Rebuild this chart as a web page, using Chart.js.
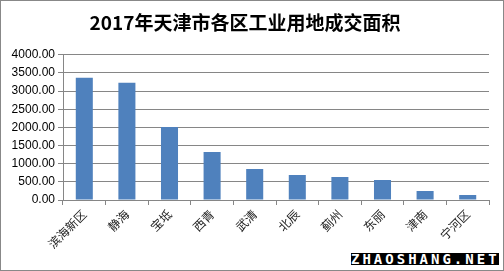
<!DOCTYPE html>
<html>
<head>
<meta charset="utf-8">
<script src="https://cdn.jsdelivr.net/npm/chart.js@4"></script>
<style>
    body { margin: 0; background: #fff; }
    #wrap { position: relative; width: 504px; height: 271px; border: 1px solid #888; box-sizing: border-box; }
    #chart { display: block; }
    #mark {
        position: absolute; left: 350px; top: 252px; width: 148px; height: 12px;
        background: #000; color: #fff; font: bold 14px "DejaVu Sans Mono", monospace;
        line-height: 12px; letter-spacing: 3px; text-align: center; overflow: hidden;
    }
</style>
</head>
<body>
<div id="wrap">
    <canvas id="chart" width="502" height="269"></canvas>
    <div id="mark">ZHAOSHANG.NET</div>
</div>
<script>
// districts and land area sold
const districts = ['滨海新区', '静海', '宝坻', '西青', '武清', '北辰', '蓟州', '东丽', '津南', '宁河区'];
const areas = [3366, 3228, 2014, 1324, 855, 690, 634, 552, 248, 138];
const yTicks = [0, 500, 1000, 1500, 2000, 2500, 3000, 3500, 4000];

const gridColor = '#868686';

new Chart(document.getElementById('chart').getContext('2d'), {
    type: 'bar',
    data: {
        labels: districts,
        datasets: [{ data: areas, backgroundColor: '#4F81BD', barPercentage: 0.4, categoryPercentage: 1 }]
    },
    options: {
        responsive: false,
        animation: false,
        layout: { padding: { left: 0, right: 14, top: 0, bottom: 0 } },
        plugins: {
            legend: { display: false },
            tooltip: { enabled: false },
            title: {
                display: true,
                text: '2017年天津市各区工业用地成交面积',
                color: '#000',
                font: { family: '"Noto Sans CJK SC", sans-serif', size: 19, weight: 'bold', lineHeight: 1.2 },
                padding: { top: 10, bottom: 21 }
            }
        },
        scales: {
            y: {
                min: 0,
                max: 4000,
                afterBuildTicks: s => { s.ticks = yTicks.map(v => ({ value: v })); },
                afterFit: s => { s.width = 62; },
                ticks: {
                    color: '#000',
                    padding: 3,
                    font: { family: '"Liberation Sans", Arial, sans-serif', size: 12 },
                    callback: v => v.toFixed(2)
                },
                grid: { color: gridColor, lineWidth: 1, tickLength: 5 },
                border: { color: gridColor }
            },
            x: {
                afterFit: s => { s.height = 70; },
                ticks: {
                    color: '#222',
                    minRotation: 45,
                    maxRotation: 45,
                    padding: 2,
                    font: { family: '"Noto Sans CJK SC", sans-serif', size: 12 }
                },
                grid: { offset: true, drawOnChartArea: false, color: gridColor, tickLength: 5 },
                border: { color: gridColor }
            }
        }
    }
});
</script>
</body>
</html>
